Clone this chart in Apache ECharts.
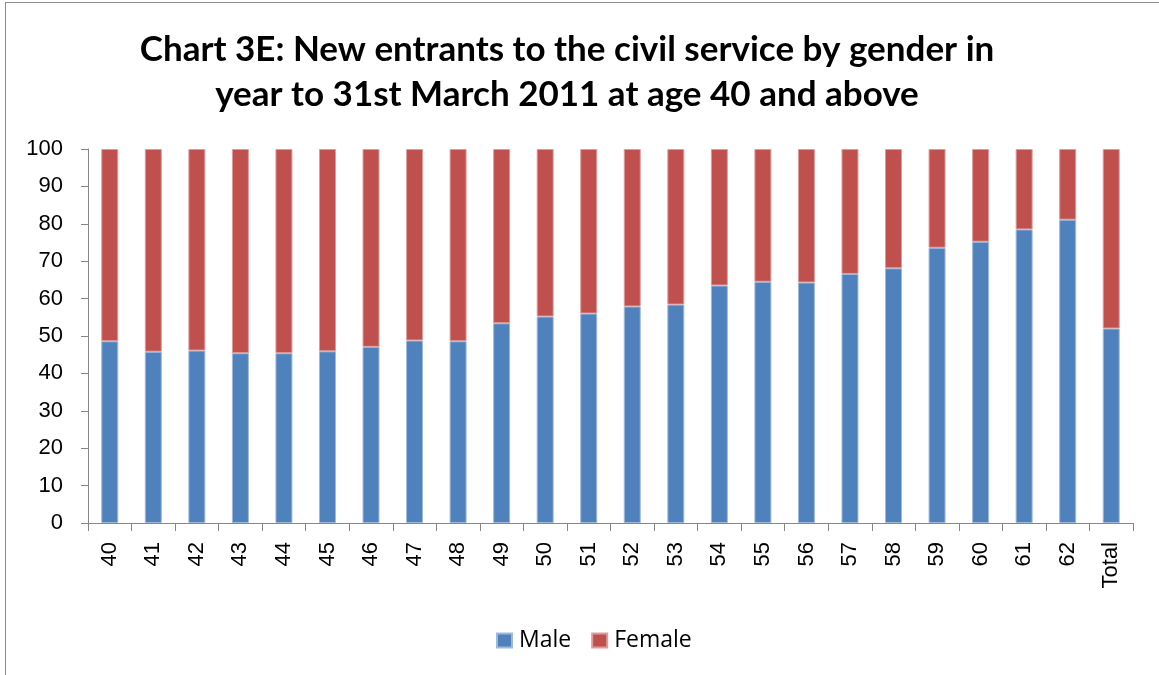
<!DOCTYPE html>
<html>
<head>
<meta charset="utf-8">
<script src="https://cdn.jsdelivr.net/npm/echarts@6/dist/echarts.min.js"></script>
<style>
  html, body { margin: 0; padding: 0; background: #fff; }
  #frame { position: absolute; left: 5px; top: 2px; width: 1160px; height: 680px;
           border-left: 1px solid #8c8c8c; border-top: 1px solid #8c8c8c; }
  #chart { position: absolute; left: 0; top: 0; width: 1159px; height: 675px; }
</style>
</head>
<body>
<div id="frame"></div>
<div id="chart"></div>
<script>
// age at entry
const ages = ["40", "41", "42", "43", "44", "45", "46", "47", "48", "49", "50", "51",
  "52", "53", "54", "55", "56", "57", "58", "59", "60", "61", "62", "Total"];
// percentage male
const male = [48.6, 45.8, 46.1, 45.4, 45.4, 45.9, 47.1, 48.8, 48.6, 53.4, 55.2, 56.0,
  57.9, 58.4, 63.5, 64.5, 64.3, 66.6, 68.1, 73.6, 75.2, 78.5, 81.1, 52.0];
const female = male.map((m) => +(100 - m).toFixed(1));
const yTicks = { min: 0, max: 100, interval: 10 };

const chart = echarts.init(document.getElementById("chart"));

const labelFont = {
  fontFamily: "Liberation Sans",
  fontSize: 22,
  color: "#000",
};

const options = {
  animation: false,
  title: {
    text: "Chart 3E: New entrants to the civil service by gender in\nyear to 31st March 2011 at age 40 and above",
    left: 562,
    top: 22,
    textAlign: "center",
    textStyle: {
      fontFamily: "Lato",
      fontWeight: "bold",
      fontSize: 35,
      lineHeight: 45,
      color: "#000",
    },
  },
  legend: {
    top: 624,
    left: 491,
    itemWidth: 15,
    itemHeight: 14,
    itemGap: 20,
    icon: "rect",
    textStyle: { fontFamily: "Open Sans", fontSize: 23, color: "#000", padding: [0, 0, 0, 2] },
    data: ["Male", "Female"],
  },
  grid: {
    left: 88,
    right: 26,
    top: 149,
    bottom: 152,
    containLabel: false,
  },
  xAxis: {
    type: "category",
    data: ages,
    axisLine: { lineStyle: { color: "#868686", width: 1 } },
    axisTick: { show: true, length: 8, lineStyle: { color: "#868686" } },
    axisLabel: { ...labelFont, rotate: 90, margin: 19 },
  },
  yAxis: {
    type: "value",
    ...yTicks,
    splitLine: { show: false },
    axisLine: { show: true, lineStyle: { color: "#868686", width: 1 } },
    axisTick: { show: true, length: 7, lineStyle: { color: "#868686" } },
    axisLabel: { ...labelFont, margin: 25 },
  },
  series: [
    {
      name: "Male",
      type: "bar",
      stack: "total",
      barWidth: "39%",
      data: male,
      itemStyle: { color: "#4F81BD", borderColor: "#9fb9dc", borderWidth: 1 },
    },
    {
      name: "Female",
      type: "bar",
      stack: "total",
      barWidth: "39%",
      data: female,
      itemStyle: { color: "#C0504D", borderColor: "#dc9d9b", borderWidth: 1 },
    },
  ],
};

chart.setOption(options);
</script>
</body>
</html>
